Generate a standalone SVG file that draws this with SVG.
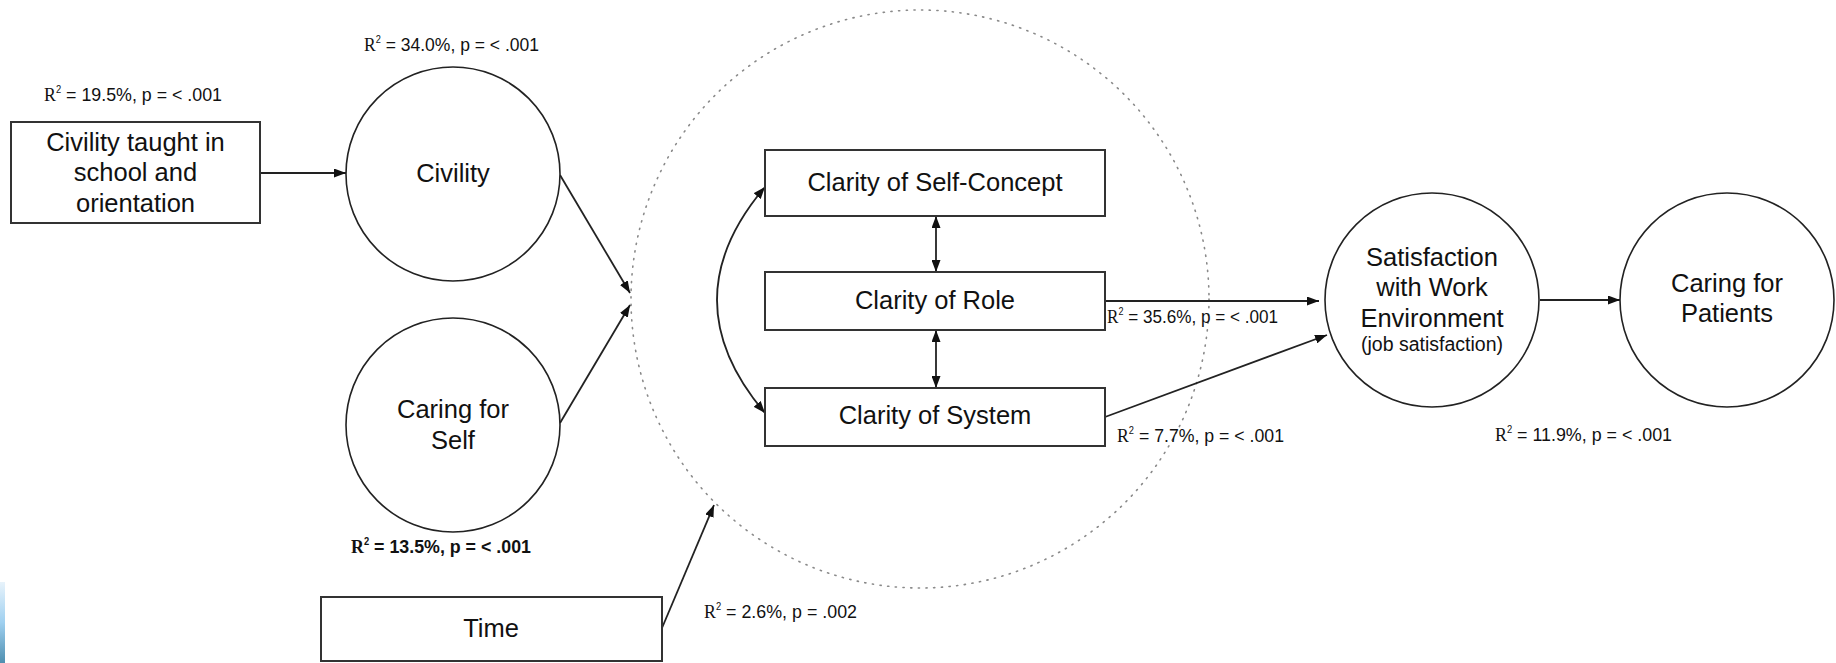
<svg xmlns="http://www.w3.org/2000/svg" width="1836" height="663" viewBox="0 0 1836 663">
<defs>
<marker id="ah" viewBox="0 0 12 9" refX="12" refY="4.5" markerWidth="12" markerHeight="9" markerUnits="userSpaceOnUse" orient="auto-start-reverse">
<path d="M0,0 L12,4.5 L0,9 z" fill="#111"/>
</marker>
<linearGradient id="blue" x1="0" y1="0" x2="0" y2="1">
<stop offset="0" stop-color="#e8f3fb"/>
<stop offset="0.5" stop-color="#9fd0f0"/>
<stop offset="1" stop-color="#4f8fb0"/>
</linearGradient>
<style>
.box{fill:#fff;stroke:#333;stroke-width:2}
.circ{fill:#fff;stroke:#222;stroke-width:1.6}
.lbl{font-family:"Liberation Sans",Arial,sans-serif;font-size:25.5px;fill:#111;text-anchor:middle}
.small{font-size:19.5px}
.r2{font-family:"Liberation Sans",Arial,sans-serif;font-size:19px;fill:#111}
.bold{font-weight:bold}
.ser{font-family:"Liberation Serif",serif}
.conn{fill:none;stroke:#222;stroke-width:1.8}
.arr{marker-end:url(#ah)}
.dbl{marker-start:url(#ah);marker-end:url(#ah)}
</style>
</defs>
<rect width="1836" height="663" fill="#fff"/>
<rect x="0" y="582" width="5" height="81" fill="url(#blue)"/>

<g id="group-boundary">
<circle cx="920" cy="299" r="289" fill="none" stroke="#8a8a8a" stroke-width="1.6" stroke-dasharray="1.2 6.5" stroke-linecap="round"/>
</g>

<g id="connectors">
<line class="conn arr" x1="260" y1="173" x2="346" y2="173"/>
<line class="conn arr" x1="560" y1="175" x2="630" y2="293"/>
<line class="conn arr" x1="560" y1="423" x2="630" y2="305"/>
<line class="conn arr" x1="662" y1="628" x2="714" y2="505"/>
<line class="conn dbl" x1="936" y1="216" x2="936" y2="272"/>
<line class="conn dbl" x1="936" y1="330" x2="936" y2="388"/>
<path class="conn dbl" d="M765,187 Q669,300 765,413"/>
<line class="conn arr" x1="1105" y1="301" x2="1319" y2="301"/>
<line class="conn arr" x1="1105" y1="417" x2="1327" y2="335"/>
<line class="conn arr" x1="1540" y1="300" x2="1620" y2="300"/>
</g>

<g id="node-civility-taught">
<rect class="box" x="11" y="122" width="249" height="101"/>
<text class="lbl" x="135.5" y="151">Civility taught in</text>
<text class="lbl" x="135.5" y="181">school and</text>
<text class="lbl" x="135.5" y="212">orientation</text>
</g>

<g id="node-civility">
<circle class="circ" cx="453" cy="174" r="107"/>
<text class="lbl" x="453" y="182">Civility</text>
</g>

<g id="node-caring-self">
<circle class="circ" cx="453" cy="425" r="107"/>
<text class="lbl" x="453" y="418">Caring for</text>
<text class="lbl" x="453" y="449">Self</text>
</g>

<g id="node-time">
<rect class="box" x="321" y="597" width="341" height="64"/>
<text class="lbl" x="491" y="637">Time</text>
</g>

<g id="node-self-concept">
<rect class="box" x="765" y="150" width="340" height="66"/>
<text class="lbl" x="935" y="191">Clarity of Self-Concept</text>
</g>

<g id="node-role">
<rect class="box" x="765" y="272" width="340" height="58"/>
<text class="lbl" x="935" y="309">Clarity of Role</text>
</g>

<g id="node-system">
<rect class="box" x="765" y="388" width="340" height="58"/>
<text class="lbl" x="935" y="424">Clarity of System</text>
</g>

<g id="node-satisfaction">
<circle class="circ" cx="1432" cy="300" r="107"/>
<text class="lbl" x="1432" y="266">Satisfaction</text>
<text class="lbl" x="1432" y="296">with Work</text>
<text class="lbl" x="1432" y="327">Environment</text>
<text class="lbl small" x="1432" y="351">(job satisfaction)</text>
</g>

<g id="node-caring-patients">
<circle class="circ" cx="1727" cy="300" r="107"/>
<text class="lbl" x="1727" y="292">Caring for</text>
<text class="lbl" x="1727" y="322">Patients</text>
</g>

<g id="labels">
<text class="r2" x="364" y="51" textLength="175" lengthAdjust="spacingAndGlyphs"><tspan class="ser">R</tspan><tspan font-size="10" dy="-8">2</tspan><tspan dy="8"> = 34.0%, p =  &lt; .001</tspan></text>
<text class="r2" x="44" y="101" textLength="178" lengthAdjust="spacingAndGlyphs"><tspan class="ser">R</tspan><tspan font-size="10" dy="-8">2</tspan><tspan dy="8"> = 19.5%, p =  &lt; .001</tspan></text>
<text class="r2 bold" x="351" y="553" textLength="180" lengthAdjust="spacingAndGlyphs"><tspan class="ser">R</tspan><tspan font-size="10" dy="-8">2</tspan><tspan dy="8"> = 13.5%, p =  &lt; .001</tspan></text>
<text class="r2" x="1107" y="323" textLength="171" lengthAdjust="spacingAndGlyphs"><tspan class="ser">R</tspan><tspan font-size="10" dy="-8">2</tspan><tspan dy="8"> = 35.6%, p = &lt; .001</tspan></text>
<text class="r2" x="1117" y="442" textLength="167" lengthAdjust="spacingAndGlyphs"><tspan class="ser">R</tspan><tspan font-size="10" dy="-8">2</tspan><tspan dy="8"> = 7.7%, p =  &lt; .001</tspan></text>
<text class="r2" x="704" y="618" textLength="153" lengthAdjust="spacingAndGlyphs"><tspan class="ser">R</tspan><tspan font-size="10" dy="-8">2</tspan><tspan dy="8"> = 2.6%, p =  .002</tspan></text>
<text class="r2" x="1495" y="441" textLength="177" lengthAdjust="spacingAndGlyphs"><tspan class="ser">R</tspan><tspan font-size="10" dy="-8">2</tspan><tspan dy="8"> = 11.9%, p =  &lt; .001</tspan></text>
</g>
</svg>
